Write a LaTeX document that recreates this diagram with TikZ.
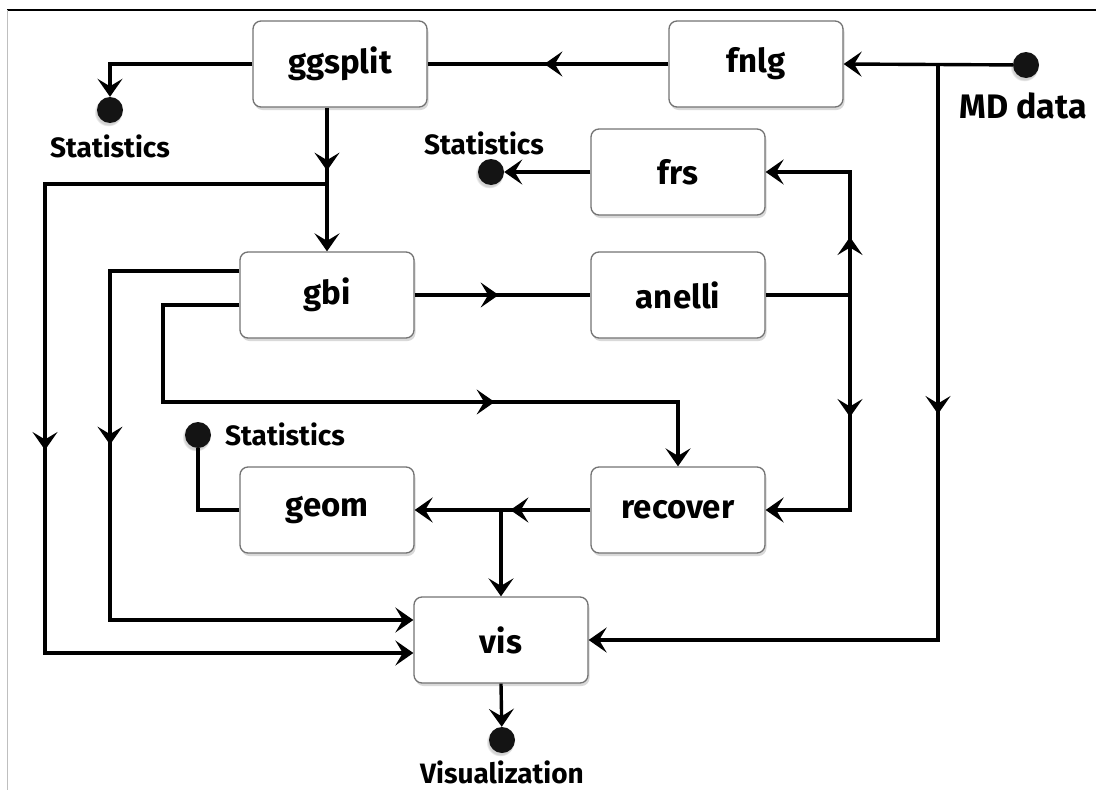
\documentclass[tikz,border=0pt]{standalone}
\usepackage{fontspec}
\setmainfont{Fira Sans}
\usetikzlibrary{arrows.meta,decorations.markings,shadows}
\begin{document}
\begin{tikzpicture}[x=1pt,y=-1pt,
  mytip/.tip={Stealth[length=18pt,width=25pt,inset=7.5pt]},
  box/.style={draw=black!55, line width=1.3pt, rounded corners=8pt, fill=white,
    minimum width=174pt, minimum height=86pt, inner sep=0pt,
    font=\fontsize{33}{36}\selectfont\bfseries,
    drop shadow={shadow xshift=1.5pt,shadow yshift=-3pt,opacity=0.3}},
  wire/.style={line width=3.4pt},
  dot/.style={circle, fill=black!92, minimum size=26pt, inner sep=0pt,
    circular drop shadow={shadow xshift=-1.5pt,shadow yshift=-2pt,opacity=0.35}},
  lbl/.style={font=\fontsize{28}{30}\selectfont\bfseries, inner sep=0pt},
  mid/.style={postaction={decorate}, decoration={markings, mark=at position #1 with {\arrow{mytip}}}}
]
\useasboundingbox (0,0) rectangle (1096,790);
% frame
\draw[line width=1.2pt] (7,10) -- (1096,10);
\draw[black!25, line width=1pt] (7,10) -- (7,790);

% boxes
\node[box] (ggsplit) at (340,64) {ggsplit};
\node[box] (fnlg) at (756,64) {fnlg};
\node[box] (frs) at (678,172) {frs};
\node[box] (gbi) at (327,295) {gbi};
\node[box] (anelli) at (678,295) {anelli};
\node[box] (geom) at (327,510) {geom};
\node[box] (recover) at (678,510) {recover};
\node[box] (vis) at (501,640) {vis};

% terminals
\node[dot] (md) at (1026,65) {};
\node[lbl, font=\fontsize{34}{36}\selectfont\bfseries] (mdl) at (1023,106) {MD data};
\node[dot] (st1) at (110,110) {};
\node[lbl] (st1l) at (110,146) {Statistics};
\node[dot] (st2) at (491,172) {};
\node[lbl] (st2l) at (484,143) {Statistics};
\node[dot] (st3) at (198,435) {};
\node[lbl] (st3l) at (285,434) {Statistics};
\node[dot] (st4) at (502,740) {};
\node[lbl] (st4l) at (502,772) {Visualization};

% junction coordinates
\coordinate (j1) at (938,64);
\coordinate (j2) at (327,184);
\coordinate (j3) at (850,295);
\coordinate (j4) at (501,510);

% connectors
\draw[wire,-mytip] (md) -- (fnlg.east);
\draw[wire,-mytip,mid=350pt] (j1) -- (j1 |- vis.east) -- (vis.east);
\draw[wire,mid=124pt] (fnlg.west) -- (ggsplit.east);
\draw[wire,-mytip] (ggsplit.west) -| (st1);
\draw[wire,-mytip,mid=63pt] (gbi.north |- ggsplit.south) -- (gbi.north);
\draw[wire,-mytip,mid=548pt] (j2) -- (45,184) -- (45,653) -- ([yshift=-13pt]vis.west);
\draw[wire,-mytip,mid=303pt] ([yshift=24pt]gbi.west) -- (110,271) -- (110,620) -- ([yshift=20pt]vis.west);
\draw[wire,-mytip,mid=505pt] ([yshift=-10pt]gbi.west) -- (163,305) -- (163,402) -- (recover.north |- 0,402) -- (recover.north);
\draw[wire,mid=84pt] (gbi.east) -- (anelli.west);
\draw[wire] (anelli.east) -- (j3);
\draw[wire,-mytip,mid=58pt] (j3) -- (j3 |- frs.east) -- (frs.east);
\draw[wire,-mytip,mid=122pt] (j3) -- (j3 |- recover.east) -- (recover.east);
\draw[wire,-mytip] (frs.west) -- (st2);
\draw[wire,-mytip,mid=80pt] (recover.west) -- (geom.east);
\draw[wire,-mytip] (j4) -- (vis.north);
\draw[wire] (geom.west) -| (st3);
\draw[wire,-mytip] (vis.south) -- (st4);
\end{tikzpicture}
\end{document}
